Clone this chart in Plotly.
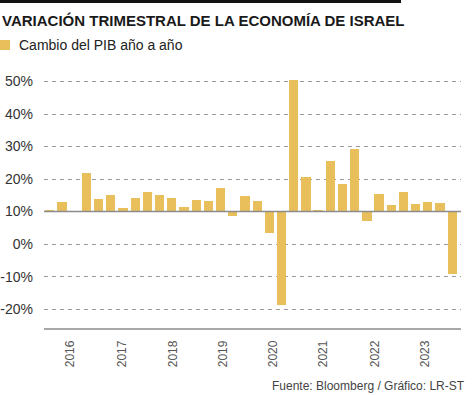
import plotly.graph_objects as go

# Quarterly values as read on the chart's axis (bars drawn from the 10% baseline)
quarters = ["2015T3", "2015T4",
            "2016T1", "2016T2", "2016T3", "2016T4",
            "2017T1", "2017T2", "2017T3", "2017T4",
            "2018T1", "2018T2", "2018T3", "2018T4",
            "2019T1", "2019T2", "2019T3", "2019T4",
            "2020T1", "2020T2", "2020T3", "2020T4",
            "2021T1", "2021T2", "2021T3", "2021T4",
            "2022T1", "2022T2", "2022T3", "2022T4",
            "2023T1", "2023T2", "2023T3", "2023T4"]
values = [10.4, 13.0, 10.1, 21.8, 13.8, 15.1, 11.1, 14.1, 16.0, 15.2, 14.2, 11.4,
          13.5, 13.2, 17.2, 8.7, 14.7, 13.2, 3.4, -18.7, 50.5, 20.5, 10.4, 25.6,
          18.6, 29.1, 7.1, 15.5, 12.0, 16.0, 12.3, 12.8, 12.5, -9.3]
baseline = 10
year_labels = ["2016", "2017", "2018", "2019", "2020", "2021", "2022", "2023"]
year_tick_pos = [1.70, 5.91, 10.09, 14.19, 18.35, 22.45, 26.64, 30.74]
y_ticks = [-20, -10, 0, 10, 20, 30, 40, 50]
y_ticktext = ["-20%", "-10%", "0%", "10%", "20%", "30%", "40%", "50%"]

BAR = "#E9BF5B"
NARROW = "Liberation Sans Narrow, Arial Narrow, sans-serif"
PW, PH = 417, 253.3

x = list(range(len(values)))
fig = go.Figure(go.Bar(
    x=x, y=[v - baseline for v in values], base=baseline,
    marker=dict(color=BAR, line=dict(width=0)),
    width=0.76, customdata=quarters, showlegend=False,
    hovertemplate="%{customdata}: %{y:.1f}<extra></extra>",
))

fig.update_layout(
    width=474, height=395,
    margin=dict(l=44, r=13, t=75, b=67, autoexpand=False),
    paper_bgcolor="white", plot_bgcolor="white",
    bargap=0,
    xaxis=dict(range=[-0.48, 33.72], tickmode="array", tickvals=year_tick_pos,
               ticktext=year_labels, tickangle=-90, showgrid=False, zeroline=False,
               showline=True, linecolor="#a8a8a8", linewidth=1.5, ticks="",
               ticklabelstandoff=6, automargin=False,
               tickfont=dict(family=NARROW, size=12, color="#555555")),
    yaxis=dict(range=[-25.8, 52], tickmode="array", tickvals=y_ticks, ticktext=y_ticktext,
               showgrid=True, gridcolor="#9a9a9a", gridwidth=1, griddash="4px,4px",
               zeroline=False, showline=False, ticks="", ticklabelstandoff=10,
               automargin=False,
               tickfont=dict(family=NARROW, size=14, color="#333333")),
    shapes=[
        dict(type="line", xref="paper", yref="y", x0=0, x1=1, y0=baseline, y1=baseline,
             line=dict(color="#8c8c8c", width=1.5), layer="above"),
        dict(type="rect", xref="paper", yref="paper", x0=-44/PW, x1=357/PW,
             y0=1 + 72/PH, y1=1 + 75/PH, fillcolor="#111111", line=dict(width=0)),
        dict(type="rect", xref="paper", yref="paper", x0=-44/PW, x1=-34/PW,
             y0=1 + 25/PH, y1=1 + 35/PH, fillcolor=BAR, line=dict(width=0)),
    ],
    annotations=[
        dict(text="VARIACIÓN TRIMESTRAL DE LA ECONOMÍA DE ISRAEL", xref="paper", yref="paper",
             x=-44/PW, y=1 + 55/PH, xanchor="left", yanchor="middle", showarrow=False,
             font=dict(family=NARROW, size=15, color="#1a1a1a", weight="bold")),
        dict(text="Cambio del PIB año a año", xref="paper", yref="paper",
             x=-27/PW, y=1 + 30/PH, xanchor="left", yanchor="middle", showarrow=False,
             font=dict(family="Liberation Sans, Arial, sans-serif", size=14, color="#222222")),
        dict(text="Fuente: Bloomberg / Gráfico: LR-ST", xref="paper", yref="paper",
             x=(467 - 44)/PW, y=-(386 - 328.3)/PH, xanchor="right", yanchor="middle",
             showarrow=False,
             font=dict(family=NARROW, size=12, color="#444444")),
    ],
)

fig.write_html("out.html", config={"displayModeBar": False})
with open("out.html", encoding="utf-8") as f:
    html = f.read()
html = html.replace("<head>", "<head><style>html,body{margin:0;padding:0;overflow:hidden;}</style>", 1)
with open("out.html", "w", encoding="utf-8") as f:
    f.write(html)
